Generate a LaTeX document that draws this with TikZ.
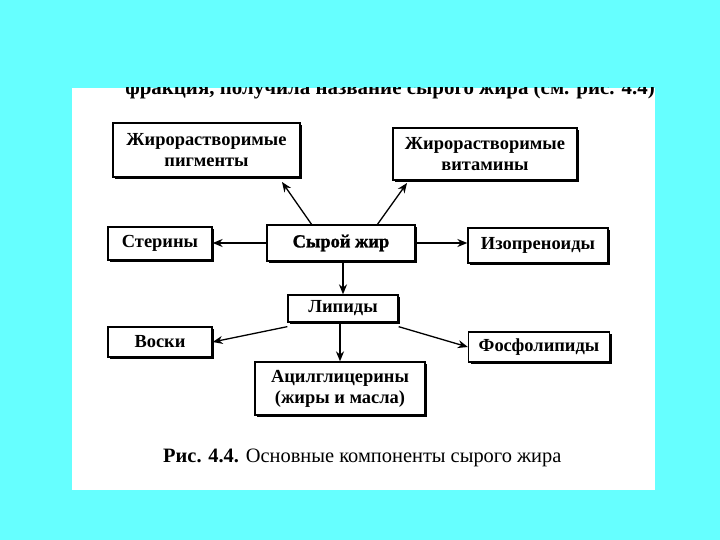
\documentclass[tikz,border=0pt]{standalone}
\usepackage{fontspec}
\setmainfont{Liberation Serif}
\newfontfamily\heavyfont{Liberation Serif}[UprightFont=* Bold, FakeBold=1.3]
\usetikzlibrary{arrows.meta,shadows}
\definecolor{bgcyan}{RGB}{102,255,255}
\tikzset{
  boxnode/.style={draw=black, line width=1.3bp, fill=white, inner sep=0pt, align=center,
    font=\fontsize{18.5}{21}\selectfont\bfseries,
    drop shadow={shadow xshift=2.4bp, shadow yshift=-2.4bp, fill=black, opacity=1}},
  conn/.style={line width=1.3bp, -{Stealth[length=10bp,width=8bp]}},
}
\begin{document}
\begin{tikzpicture}[x=1bp,y=-1bp]
\useasboundingbox (0,0) rectangle (720,540);
\fill[bgcyan] (0,0) rectangle (720,540);
\fill[white] (72,88) rectangle (655,490);
\begin{scope}
\clip (72,88) rectangle (655,490);
\node[anchor=base east, inner sep=0pt, font=\fontsize{21}{25}\selectfont\bfseries] (toptext) at (655,95)
  {фракция, получила название сырого жира (см. рис. 4.4)};
\end{scope}
% boxes
\node[boxnode, minimum width=187bp, minimum height=54bp] (pig) at (206.5,150) {Жирорастворимые\\пигменты};
\node[boxnode, minimum width=184bp, minimum height=52bp] (vit) at (485,154) {Жирорастворимые\\витамины};
\node[boxnode, minimum width=104bp, minimum height=33bp] (ster) at (160,243.5) {Стерины};
\node[boxnode, minimum width=148bp, minimum height=36bp, font=\heavyfont\fontsize{18.5}{22}\selectfont] (raw) at (341,243) {Сырой жир};
\node[boxnode, minimum width=140bp, minimum height=35bp] (iso) at (538,245.5) {Изопреноиды};
\node[boxnode, minimum width=110bp, minimum height=27bp] (lip) at (343,308.5) {Липиды};
\node[boxnode, minimum width=104bp, minimum height=30bp] (wax) at (160,342) {Воски};
\node[boxnode, minimum width=141bp, minimum height=30bp] (phos) at (539,347) {Фосфолипиды};
\node[boxnode, minimum width=170bp, minimum height=53bp] (acyl) at (340,388.5) {Ацилглицерины\\(жиры и масла)};
% connectors
\coordinate (rawA) at (312,225);
\coordinate (rawB) at (377,225);
\coordinate (pigT) at (282,182);
\coordinate (vitT) at (407,183);
\draw[conn] (rawA) -- (pigT);
\draw[conn] (rawB) -- (vitT);
\draw[conn] (raw.west) -- (ster.east |- raw.west);
\draw[conn] (raw.east) -- (iso.west |- raw.east);
\draw[conn] (raw.south -| lip.north) -- (lip.north);
\draw[conn] ([yshift=-4bp]lip.south west) -- (wax.east);
\draw[conn] ([yshift=-4bp]lip.south east) -- (phos.west);
\draw[conn] (lip.south -| acyl.north) -- (acyl.north);
% caption
\node[anchor=base west, inner sep=0pt, font=\fontsize{20.5}{24}\selectfont] (cap) at (163,462)
  {\textbf{Рис. 4.4.} Основные компоненты сырого жира};
\end{tikzpicture}
\end{document}
